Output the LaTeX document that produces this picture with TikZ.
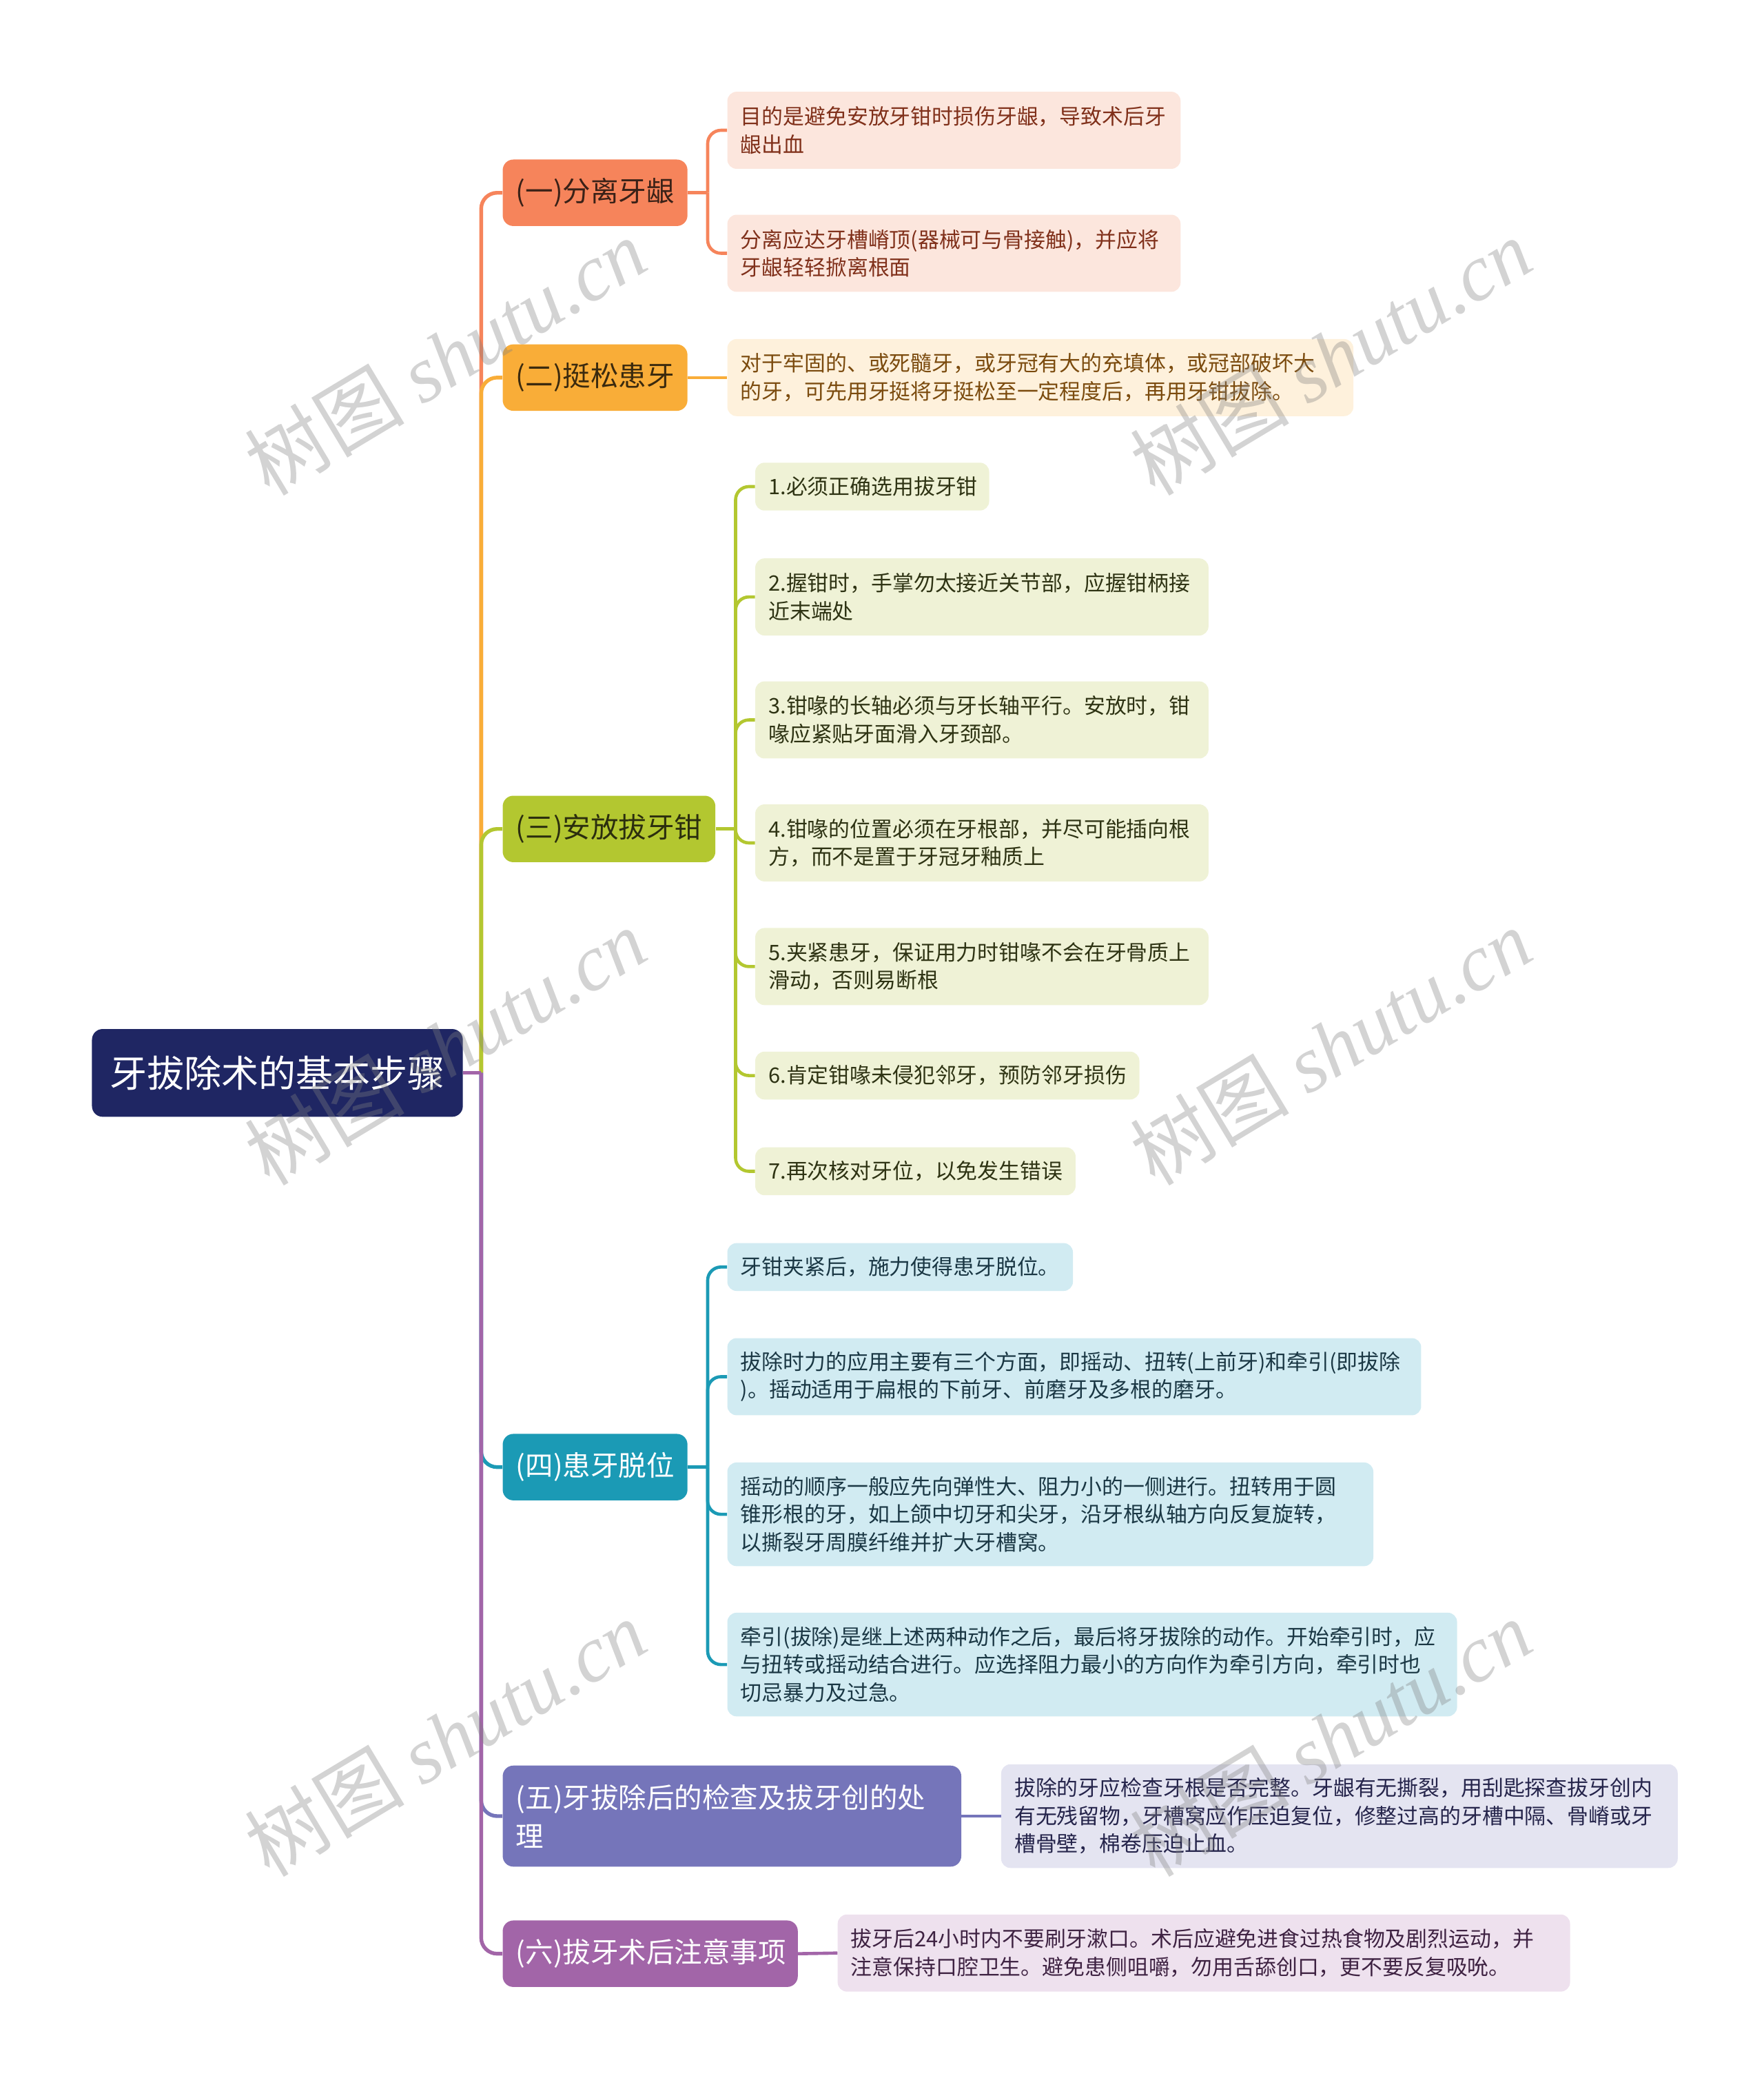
\documentclass[tikz,border=0pt]{standalone}
\usepackage{fontspec}
\setmainfont{Noto Sans CJK SC}
\newfontfamily\wmlatin{Liberation Serif}
\usepackage{tikz}

\definecolor{rootc}{HTML}{1F2663}
\definecolor{brA}{HTML}{F6845B}
\definecolor{brB}{HTML}{F9AD38}
\definecolor{brC}{HTML}{B3C730}
\definecolor{brD}{HTML}{1B9AB5}
\definecolor{brE}{HTML}{7575BA}
\definecolor{brF}{HTML}{A265A8}
\definecolor{lfA}{HTML}{FCE6DD}
\definecolor{lfB}{HTML}{FEF1DC}
\definecolor{lfC}{HTML}{EFF2D6}
\definecolor{lfD}{HTML}{D1EBF2}
\definecolor{lfE}{HTML}{E4E4F1}
\definecolor{lfF}{HTML}{EEE1EE}
\definecolor{txA}{HTML}{80301A}
\definecolor{txB}{HTML}{7B4B0E}
\definecolor{txC}{HTML}{2E3313}
\definecolor{txD}{HTML}{1A3744}
\definecolor{txE}{HTML}{25244B}
\definecolor{txF}{HTML}{3E2242}
\definecolor{hdA}{HTML}{3A2117}
\definecolor{hdB}{HTML}{3B2A0E}
\definecolor{hdC}{HTML}{2B2E0E}

\begin{document}
\begin{tikzpicture}[x=1pt,y=-1pt,
  box/.style={rounded corners=8pt, inner xsep=10pt, inner ysep=0pt, align=left, anchor=west},
  topic/.style={box, font=\fontsize{21}{29}\selectfont},
  leaf/.style={box, rounded corners=7pt, font=\fontsize{16}{21}\selectfont},
  l1/.style={minimum height=36pt},
  l2/.style={minimum height=58pt},
  l3/.style={minimum height=78pt},
  trunk/.style={line width=2.8pt, rounded corners=12pt},
  twig/.style={line width=2.4pt, rounded corners=10pt},
  wm/.style={text=gray, text opacity=0.35, font=\fontsize{60}{60}\selectfont, rotate=31}]

\useasboundingbox (0,0) rectangle (1327,1563);

\node (root) [box, fill=rootc, text=white, font=\fontsize{28}{34}\selectfont, minimum width=279pt, minimum height=66pt] at (69,807) {牙拔除术的基本步骤};

\node (A) [topic, fill=brA, text=hdA, text width=119pt, minimum height=50pt] at (378,145) {(一)分离牙龈};
\node (B) [topic, fill=brB, text=hdB, text width=119pt, minimum height=50pt] at (378,284) {(二)挺松患牙};
\node (C) [topic, fill=brC, text=hdC, text width=140pt, minimum height=50pt] at (378,623.5) {(三)安放拔牙钳};
\node (D) [topic, fill=brD, text=white, text width=119pt, minimum height=50pt] at (378,1103.5) {(四)患牙脱位};
\node (E) [topic, fill=brE, text=white, text width=325pt, minimum height=76pt] at (378,1366) {(五)牙拔除后的检查及拔牙创的处\\理};
\node (F) [topic, fill=brF, text=white, text width=202pt, minimum height=50pt] at (378,1469.5) {(六)拔牙术后注意事项};

\node (A1) [leaf, l2, fill=lfA, text=txA, text width=321pt] at (547,98) {目的是避免安放牙钳时损伤牙龈，导致术后牙\\龈出血};
\node (A2) [leaf, l2, fill=lfA, text=txA, text width=321pt] at (547,190.5) {分离应达牙槽嵴顶(器械可与骨接触)，并应将\\牙龈轻轻掀离根面};

\node (B1) [leaf, l2, fill=lfB, text=txB, text width=451pt] at (547,284) {对于牢固的、或死髓牙，或牙冠有大的充填体，或冠部破坏大\\的牙，可先用牙挺将牙挺松至一定程度后，再用牙钳拔除。};

\node (C1) [leaf, l1, fill=lfC, text=txC, text width=156pt] at (568,366) {1.必须正确选用拔牙钳};
\node (C2) [leaf, l2, fill=lfC, text=txC, text width=321pt] at (568,449) {2.握钳时，手掌勿太接近关节部，应握钳柄接\\近末端处};
\node (C3) [leaf, l2, fill=lfC, text=txC, text width=321pt] at (568,541.5) {3.钳喙的长轴必须与牙长轴平行。安放时，钳\\喙应紧贴牙面滑入牙颈部。};
\node (C4) [leaf, l2, fill=lfC, text=txC, text width=321pt] at (568,634) {4.钳喙的位置必须在牙根部，并尽可能插向根\\方，而不是置于牙冠牙釉质上};
\node (C5) [leaf, l2, fill=lfC, text=txC, text width=321pt] at (568,727) {5.夹紧患牙，保证用力时钳喙不会在牙骨质上\\滑动，否则易断根};
\node (C6) [leaf, l1, fill=lfC, text=txC, text width=269pt] at (568,809) {6.肯定钳喙未侵犯邻牙，预防邻牙损伤};
\node (C7) [leaf, l1, fill=lfC, text=txC, text width=221pt] at (568,881) {7.再次核对牙位，以免发生错误};

\node (D1) [leaf, l1, fill=lfD, text=txD, text width=240pt] at (547,953) {牙钳夹紧后，施力使得患牙脱位。};
\node (D2) [leaf, l2, fill=lfD, text=txD, text width=502pt] at (547,1035.5) {拔除时力的应用主要有三个方面，即摇动、扭转(上前牙)和牵引(即拔除\\)。摇动适用于扁根的下前牙、前磨牙及多根的磨牙。};
\node (D3) [leaf, l3, fill=lfD, text=txD, text width=466pt] at (547,1139) {摇动的顺序一般应先向弹性大、阻力小的一侧进行。扭转用于圆\\锥形根的牙，如上颌中切牙和尖牙，沿牙根纵轴方向反复旋转，\\以撕裂牙周膜纤维并扩大牙槽窝。};
\node (D4) [leaf, l3, fill=lfD, text=txD, text width=529pt] at (547,1252) {牵引(拔除)是继上述两种动作之后，最后将牙拔除的动作。开始牵引时，应\\与扭转或摇动结合进行。应选择阻力最小的方向作为牵引方向，牵引时也\\切忌暴力及过急。};

\node (E1) [leaf, l3, fill=lfE, text=txE, text width=489pt] at (753,1366) {拔除的牙应检查牙根是否完整。牙龈有无撕裂，用刮匙探查拔牙创内\\有无残留物，牙槽窝应作压迫复位，修整过高的牙槽中隔、骨嵴或牙\\槽骨壁，棉卷压迫止血。};

\node (F1) [leaf, l2, fill=lfF, text=txF, text width=531pt] at (630,1469) {拔牙后24小时内不要刷牙漱口。术后应避免进食过热食物及剧烈运动，并\\注意保持口腔卫生。避免患侧咀嚼，勿用舌舔创口，更不要反复吸吮。};

\coordinate (t) at (362,807);
\draw[trunk, brA] (t) |- (A.west);
\draw[trunk, brB] (t) |- (B.west);
\draw[trunk, brC] (t) |- (C.west);
\draw[trunk, brD] (t) |- (D.west);
\draw[trunk, brE] (t) |- (E.west);
\draw[trunk, brF] (t) |- (F.west);
\draw[trunk, brF] (root.east) -- (t);

\draw[twig, brA] (A.east) -- ++(15,0) coordinate (a);
\foreach \n in {A1,A2} \draw[twig, brA] (a) |- (\n.west);
\draw[twig, brB] (B.east) -- (B1.west);
\draw[twig, brC] (C.east) -- ++(15,0) coordinate (c);
\foreach \n in {C1,C2,C3,C4,C5,C6,C7} \draw[twig, brC] (c) |- (\n.west);
\draw[twig, brD] (D.east) -- ++(15,0) coordinate (d);
\foreach \n in {D1,D2,D3,D4} \draw[twig, brD] (d) |- (\n.west);
\draw[twig, brE] (E.east) -- (E1.west);
\draw[twig, brF] (F.east) -- (F1.west);

\foreach \x/\y [count=\i] in {335/268,1001/268,335/787,1001/787,335/1307,1001/1307}
  \node (w\i) [wm] at (\x,\y) {树图 {\wmlatin\itshape shutu.cn}};
\end{tikzpicture}
\end{document}
